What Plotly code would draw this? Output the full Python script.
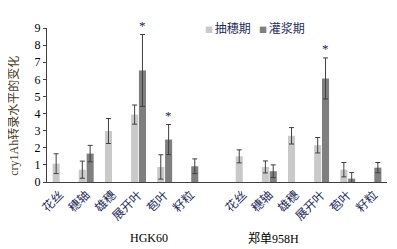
import plotly.graph_objects as go

categories = ["花丝", "穗轴", "雄穗", "展开叶", "苞叶", "籽粒"]
groups = ["HGK60", "郑单958H"]
series_names = ["抽穗期", "灌浆期"]

# HGK60
hgk_heading = [1.07, 0.72, 2.98, 3.94, 0.88, None]
hgk_heading_err = [0.58, 0.50, 0.73, 0.56, 0.71, None]
hgk_filling = [None, 1.66, None, 6.52, 2.48, 0.92]
hgk_filling_err = [None, 0.48, None, 2.10, 0.88, 0.43]

# 郑单958H
zd_heading = [1.50, 0.88, 2.70, 2.15, 0.72, None]
zd_heading_err = [0.38, 0.35, 0.48, 0.45, 0.42, None]
zd_filling = [None, 0.63, None, 6.05, 0.20, 0.84]
zd_filling_err = [None, 0.37, None, 1.20, 0.35, 0.30]

# significance marks on filling-stage bars
sig_marks = [("HGK60", "展开叶"), ("HGK60", "苞叶"), ("郑单958H", "展开叶")]

colors = ["#c9c9c9", "#7f7f7f"]

# positions: 6 categories, 1 blank slot, 6 categories
pos1 = list(range(len(categories)))
pos2 = [p + len(categories) + 1 for p in pos1]
xpos = pos1 + pos2
ticktext = categories + categories

heading = hgk_heading + zd_heading
heading_err = hgk_heading_err + zd_heading_err
filling = hgk_filling + zd_filling
filling_err = hgk_filling_err + zd_filling_err

serif = "Liberation Serif, Noto Sans CJK SC, serif"
cjk = "Noto Sans CJK SC, sans-serif"

fig = go.Figure()
for name, vals, errs, col in [(series_names[0], heading, heading_err, colors[0]),
                              (series_names[1], filling, filling_err, colors[1])]:
    fig.add_trace(go.Bar(
        x=xpos, y=vals, name=name, showlegend=False,
        marker=dict(color=col, line=dict(width=0)),
        error_y=dict(type="data", array=[e if e is not None else 0 for e in errs],
                     color="#3f3f3f", thickness=1, width=2.5),
    ))

fig.update_layout(
    template="none",
    width=397, height=249,
    margin=dict(l=39, r=18, t=20, b=75, autoexpand=False),
    paper_bgcolor="white", plot_bgcolor="white",
    barmode="group", bargap=0.4, bargroupgap=0.1,
    font=dict(family=serif, size=12, color="black"),
    showlegend=False,
)
fig.update_xaxes(
    tickmode="array", tickvals=xpos, ticktext=ticktext, tickangle=-45,
    range=[-0.5, xpos[-1] + 0.5], automargin=False,
    tickfont=dict(family=cjk, size=12, color="#1f2a5a"),
    showline=True, linecolor="#404040", linewidth=1.2, ticks="", showgrid=False,
    zeroline=False,
)
fig.update_yaxes(
    range=[0, 9], dtick=1, showline=True, linecolor="#404040", linewidth=1.2,
    ticks="outside", ticklen=3, tickcolor="#404040", showgrid=False, zeroline=False,
    automargin=False,
    tickfont=dict(family=serif, size=12, color="black"),
)
# y-axis title
fig.add_annotation(x=-0.097, y=0.43, xref="paper", yref="paper",
                   text="cry1Ah转录水平的变化", textangle=-90, showarrow=False,
                   xanchor="center", yanchor="middle",
                   font=dict(family=serif, size=12, color="#4a3a22"))

# asterisks above the significant filling-stage bars (anchored at error-bar tops)
for g, c in sig_marks:
    i = categories.index(c)
    if g == groups[0]:
        xv = pos1[i]; v = hgk_filling[i] + hgk_filling_err[i]
    else:
        xv = pos2[i]; v = zd_filling[i] + zd_filling_err[i]
    fig.add_annotation(x=xv, y=v, xref="x", yref="y", text="*", showarrow=False,
                       xshift=4, yshift=9, yanchor="middle",
                       font=dict(family=serif, size=13, color="#1a1f4a"))

# legend (small square swatches)
legend_text = (f'<span style="color:{colors[0]};font-size:8px">■ </span>{series_names[0]}'
               f'   <span style="color:{colors[1]};font-size:8px">■ </span>{series_names[1]}')
fig.add_annotation(x=0.46, y=1.005, xref="paper", yref="paper", text=legend_text,
                   xanchor="left", yanchor="middle", showarrow=False,
                   font=dict(family=cjk, size=12, color="#1f2a5a"))
fig.add_annotation(x=0.238, y=-0.366, xref="paper", yref="paper", text=groups[0],
                   yanchor="middle", showarrow=False,
                   font=dict(family=serif, size=12, color="black"))
fig.add_annotation(x=0.747, y=-0.366, xref="paper", yref="paper", text=groups[1],
                   yanchor="middle", showarrow=False,
                   font=dict(family=serif, size=12, color="black"))

fig.write_html("out.html")
